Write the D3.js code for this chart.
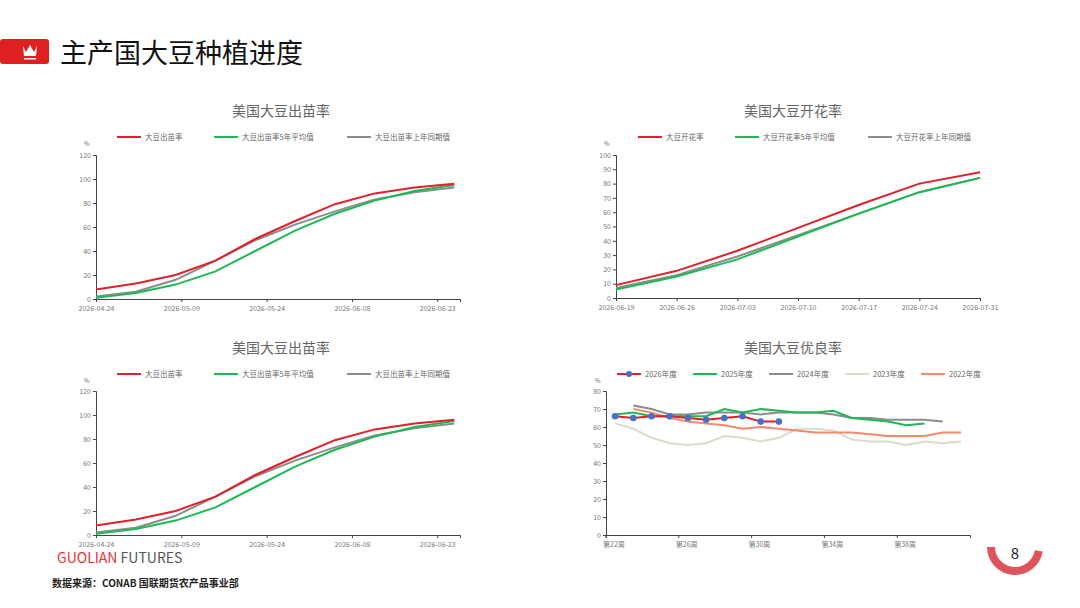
<!DOCTYPE html>
<html><head><meta charset="utf-8">
<script src="https://cdn.jsdelivr.net/npm/d3@7"></script>
<style>
body{margin:0;background:#fff;}
text{font-family:"Noto Sans CJK SC","Noto Sans",sans-serif;}
</style></head>
<body><svg id="c" width="1080" height="608"></svg>
<script>
// emergence (weekly)
const emergeDates = ["2026-04-24","2026-05-01","2026-05-08","2026-05-15","2026-05-22","2026-05-29","2026-06-05","2026-06-12","2026-06-19","2026-06-26"];
const emergeNow = [8,13,20,32,50,65,79,88,93,96];
const emerge5yr = [1,5,12,23,40,57,71,82,90,95];
const emergeLast = [2,6,16,32,49,62,73,83,89,93];
const emergeTicks = ["2026-04-24","2026-05-09","2026-05-24","2026-06-08","2026-06-23"];

// blooming (weekly)
const bloomDates = ["2026-06-19","2026-06-26","2026-07-03","2026-07-10","2026-07-17","2026-07-24","2026-07-31"];
const bloomNow = [9,19,33,49,65,80,88];
const bloom5yr = [6,15,27,43,59,74,84];
const bloomLast = [7,16,29,44,59,74,84];

// good/excellent rating by week
const weeks = d3.range(22,42).map(w => "第" + w + "周");
const weekTicks = ["第22周","第26周","第30周","第34周","第38周"];
const r2026 = [66,65,66,66,65,64,65,66,63,63];
const r2025 = [67,68,66,66,66,66,70,68,70,69,68,68,69,65,64,63,61,62];
const r2024 = [null,72,70,67,67,68,68,68,67,68,68,68,67,65,65,64,64,64,63];
const r2023 = [62,59,54,51,50,51,55,54,52,54,59,59,58,53,52,52,50,52,51,52];
const r2022 = [null,70,68,65,63,62,61,59,60,59,58,57,57,57,56,55,55,55,57,57];

const svg = d3.select("#c");
const parse = d3.timeParse("%Y-%m-%d");
const fmt = d3.timeFormat("%Y-%m-%d");
const RED="#e0202a", GREEN="#1db954", GRAY="#8c8c8c", BEIGE="#dcdccc", SALMON="#f4896b";

// header
svg.append("rect").attr("x",0).attr("y",39).attr("width",49).attr("height",25).attr("rx",3).attr("fill","#de2020");
svg.append("path").attr("d","M23,46 L26,52 L30,45 L34,52 L37,46 L36,56 L24,56 Z").attr("fill","#fff");
svg.append("rect").attr("x",24).attr("y",58).attr("width",12).attr("height",1.5).attr("fill","#fff");
svg.append("text").attr("x",60).attr("y",63).attr("font-size",27).attr("fill","#111").text("主产国大豆种植进度");

// footer
svg.append("text").attr("x",57).attr("y",563).attr("font-size",14).attr("fill","#e8323a").attr("font-family","Roboto").text("GUOLIAN")
  .append("tspan").attr("fill","#555").text(" FUTURES");
svg.append("text").attr("x",52).attr("y",587).attr("font-size",10).attr("font-weight","bold").attr("fill","#222").text("数据来源：CONAB 国联期货农产品事业部");
const arc = d3.arc().innerRadius(20).outerRadius(28).startAngle(Math.PI*0.55).endAngle(Math.PI*1.5);
svg.append("path").attr("transform","translate(1015,547)").attr("d",arc).attr("fill","#d9363e").attr("opacity",0.85);
svg.append("text").attr("x",1015).attr("y",559).attr("text-anchor","middle").attr("font-size",15).attr("fill","#222").text("8");

function frame(title, tx, ty, legend, pctX, pctY) {
  svg.append("text").attr("x",tx).attr("y",ty).attr("text-anchor","middle").attr("font-size",14).attr("fill","#666").text(title);
  legend.forEach(l => {
    svg.append("line").attr("x1",l.x).attr("x2",l.x+24).attr("y1",ty+21).attr("y2",ty+21).attr("stroke",l.c).attr("stroke-width",2);
    if (l.dot) svg.append("circle").attr("cx",l.x+12).attr("cy",ty+21).attr("r",3).attr("fill","#4472c4");
    svg.append("text").attr("x",l.x+28).attr("y",ty+24).attr("font-size",7.5).attr("fill","#666").text(l.t);
  });
  svg.append("text").attr("x",pctX).attr("y",pctY).attr("font-size",6).attr("fill","#666").text("%");
}

function styleAxis(g){
  g.selectAll("path,line").attr("stroke","#444");
  g.selectAll("text").attr("fill","#777").attr("font-size",7).attr("font-family","'DejaVu Serif',serif");
}

function timeChart(dates, series, x0, x1, y0, y1, dom, ymax, ystep, ticks) {
  const x = d3.scaleTime().domain(dom.map(parse)).range([x0,x1]);
  const y = d3.scaleLinear().domain([0,ymax]).range([y1,y0]);
  const gx = svg.append("g").attr("transform",`translate(0,${y1})`)
    .call(d3.axisBottom(x).tickValues(ticks.map(parse)).tickFormat(fmt).tickSize(3).tickPadding(4));
  styleAxis(gx);
  const gy = svg.append("g").attr("transform",`translate(${x0},0)`)
    .call(d3.axisLeft(y).tickValues(d3.range(0,ymax+1,ystep)).tickSize(3).tickPadding(2));
  styleAxis(gy);
  const line = d3.line().x((d,i)=>x(parse(dates[i]))).y(d=>y(d));
  series.forEach(s => svg.append("path").datum(s.v).attr("fill","none").attr("stroke",s.c).attr("stroke-width",2).attr("d",line));
}

const emergeLegend = [{x:117,c:RED,t:"大豆出苗率"},{x:214,c:GREEN,t:"大豆出苗率5年平均值"},{x:347,c:GRAY,t:"大豆出苗率上年同期值"}];
const emergeSeries = [{v:emergeLast,c:GRAY},{v:emerge5yr,c:GREEN},{v:emergeNow,c:RED}];

// top-left
frame("美国大豆出苗率",281,116,emergeLegend,84,146);
timeChart(emergeDates, emergeSeries, 96,460,155,299,["2026-04-24","2026-06-27"],120,20,emergeTicks);

// bottom-left
frame("美国大豆出苗率",281,353,emergeLegend,84,383);
timeChart(emergeDates, emergeSeries, 96,460,391,535,["2026-04-24","2026-06-27"],120,20,emergeTicks);

// top-right
frame("美国大豆开花率",793,116,[{x:638,c:RED,t:"大豆开花率"},{x:735,c:GREEN,t:"大豆开花率5年平均值"},{x:868,c:GRAY,t:"大豆开花率上年同期值"}],604,146);
timeChart(bloomDates, [{v:bloomLast,c:GRAY},{v:bloom5yr,c:GREEN},{v:bloomNow,c:RED}],616,980,155,298,["2026-06-19","2026-07-31"],100,10,bloomDates);

// bottom-right
frame("美国大豆优良率",793,353,[{x:617,c:RED,t:"2026年度",dot:true},{x:693,c:GREEN,t:"2025年度"},{x:769,c:GRAY,t:"2024年度"},{x:845,c:BEIGE,t:"2023年度"},{x:921,c:SALMON,t:"2022年度"}],595,383);
{
  const x = d3.scaleBand().domain(weeks).range([606,970]);
  const y = d3.scaleLinear().domain([0,80]).range([535,391]);
  const gx = svg.append("g").attr("transform","translate(0,535)")
    .call(d3.axisBottom(x).tickValues(weekTicks).tickSize(3).tickPadding(4));
  gx.selectAll(".tick").attr("transform", d => `translate(${x(d)},0)`);
  gx.selectAll(".tick text").attr("text-anchor","start").attr("dx",-3);
  styleAxis(gx);
  const gy = svg.append("g").attr("transform","translate(606,0)")
    .call(d3.axisLeft(y).tickValues(d3.range(0,81,10)).tickSize(3).tickPadding(2));
  styleAxis(gy);
  const line = d3.line().defined(d=>d!=null).x((d,i)=>x(weeks[i])+x.bandwidth()/2).y(d=>y(d));
  [[r2023,BEIGE],[r2022,SALMON],[r2024,GRAY],[r2025,GREEN],[r2026,RED]].forEach(([v,c]) =>
    svg.append("path").datum(v).attr("fill","none").attr("stroke",c).attr("stroke-width",2).attr("d",line));
  svg.selectAll("circle.pt").data(r2026).enter().append("circle").attr("class","pt")
    .attr("cx",(d,i)=>x(weeks[i])+x.bandwidth()/2).attr("cy",d=>y(d)).attr("r",3.3).attr("fill","#4472c4");
}
</script></body></html>
